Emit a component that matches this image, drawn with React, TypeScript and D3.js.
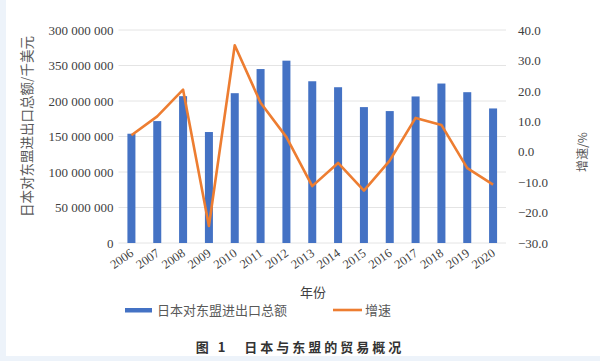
import React, { useEffect, useRef } from "react";
import * as d3 from "d3";

const years = ["2006","2007","2008","2009","2010","2011","2012","2013","2014","2015","2016","2017","2018","2019","2020"];
// 千美元 (thousand USD)
const tradeTotal = [153900000,171700000,206800000,156300000,211000000,245000000,256800000,227800000,219400000,191400000,185800000,206400000,224600000,212400000,189500000];
const growth = [5.4,11.6,20.4,-24.4,35.0,16.1,4.8,-11.3,-3.7,-12.8,-2.9,11.1,8.8,-5.4,-10.8];
const leftTickValues = [0,50000000,100000000,150000000,200000000,250000000,300000000];
const leftTickLabels = ["0","50 000 000","100 000 000","150 000 000","200 000 000","350 000 000","300 000 000"];
const rightTickValues = [-30,-20,-10,0,10,20,30,40];
const leftTitle = "日本对东盟进出口总额/千美元";
const rightTitle = "增速/%";
const xTitle = "年份";
const legendBar = "日本对东盟进出口总额";
const legendLine = "增速";
const caption = "图 1　日本与东盟的贸易概况";

const W = 600, H = 361;
const M = { left: 118.5, right: 506, top: 30, bottom: 243 };
const BLUE = "#4472c4";
const ORANGE = "#ed7d31";
const SERIF = "Liberation Serif, Times New Roman, DejaVu Serif, serif";
const CJK = "Noto Sans CJK SC, Noto Sans, sans-serif";

export default function App() {
  const ref = useRef<SVGSVGElement>(null);
  useEffect(() => {
    const svg = d3.select(ref.current);
    svg.selectAll("*").remove();

    svg.append("rect").attr("width", W).attr("height", H).attr("fill", "#edf3fa");
    svg.append("rect").attr("x", 6).attr("y", 0).attr("width", W - 6).attr("height", 356).attr("fill", "#ffffff");

    const x = d3.scaleBand().domain(years).range([M.left, M.right]).paddingInner(0.69).paddingOuter(0.345);
    const yL = d3.scaleLinear().domain([0, 300000000]).range([M.bottom, M.top]);
    const yR = d3.scaleLinear().domain([-30, 40]).range([M.bottom, M.top]);

    // gridlines
    svg.append("g").selectAll("line").data(leftTickValues).join("line")
      .attr("x1", M.left).attr("x2", M.right)
      .attr("y1", d => yL(d)).attr("y2", d => yL(d))
      .attr("stroke", "#e4e4e4").attr("stroke-width", 1);

    // left axis labels
    const lAxis = svg.append("g").attr("transform", `translate(${M.left - 5},0)`)
      .call(d3.axisLeft(yL).tickValues(leftTickValues).tickSize(0).tickPadding(0)
        .tickFormat((d, i) => leftTickLabels[i]));
    lAxis.select(".domain").remove();
    lAxis.attr("font-family", null).attr("font-size", null);
    lAxis.selectAll("text").style("font-family", SERIF).style("font-size", "13px").attr("fill", "#404040");

    // right axis labels
    const rAxis = svg.append("g").attr("transform", `translate(${M.right + 12},0)`)
      .call(d3.axisRight(yR).tickValues(rightTickValues).tickSize(0).tickPadding(0)
        .tickFormat(d => (d as number) < 0 ? "\u2212" + Math.abs(d as number).toFixed(1) : (d as number).toFixed(1)));
    rAxis.select(".domain").remove();
    rAxis.attr("font-family", null).attr("font-size", null);
    rAxis.selectAll("text").style("font-family", SERIF).style("font-size", "13px").attr("fill", "#404040");

    // bars
    svg.append("g").selectAll("rect").data(years).join("rect")
      .attr("x", d => x(d)!).attr("width", x.bandwidth())
      .attr("y", (d, i) => yL(tradeTotal[i]))
      .attr("height", (d, i) => yL(0) - yL(tradeTotal[i]))
      .attr("fill", BLUE);

    // line
    const line = d3.line<number>().x((d, i) => x(years[i])! + x.bandwidth() / 2).y(d => yR(d));
    svg.append("path").datum(growth).attr("d", line)
      .attr("fill", "none").attr("stroke", ORANGE).attr("stroke-width", 2.6).attr("stroke-linejoin", "round");

    // x tick labels
    svg.append("g").selectAll("text").data(years).join("text")
      .attr("transform", d => `translate(${x(d)! + x.bandwidth() / 2 + 3},${M.bottom + 12}) rotate(-35)`)
      .attr("text-anchor", "end").style("font-family", SERIF).style("font-size", "12.5px").attr("fill", "#404040")
      .text(d => d);

    // titles
    svg.append("text").attr("transform", `translate(32,${(M.top + M.bottom) / 2 - 10}) rotate(-90)`)
      .attr("text-anchor", "middle").style("font-family", CJK).style("font-size", "13.5px").attr("fill", "#595959")
      .text(leftTitle);
    svg.append("text").attr("transform", `translate(587,152) rotate(-90)`)
      .attr("text-anchor", "middle").style("font-family", CJK).style("font-size", "12px").attr("fill", "#595959")
      .text(rightTitle);
    svg.append("text").attr("x", 313).attr("y", 297)
      .attr("text-anchor", "middle").style("font-family", CJK).style("font-size", "13px").attr("fill", "#404040")
      .text(xTitle);

    // legend
    svg.append("rect").attr("x", 125).attr("y", 308).attr("width", 27).attr("height", 4.5).attr("fill", BLUE);
    svg.append("text").attr("x", 157).attr("y", 315).style("font-family", CJK).style("font-size", "13px").attr("fill", "#595959")
      .text(legendBar);
    svg.append("line").attr("x1", 333).attr("x2", 362).attr("y1", 310).attr("y2", 310)
      .attr("stroke", ORANGE).attr("stroke-width", 2.6);
    svg.append("text").attr("x", 365).attr("y", 315).style("font-family", CJK).style("font-size", "13px").attr("fill", "#595959")
      .text(legendLine);

    // caption
    svg.append("text").attr("x", 300).attr("y", 352).attr("text-anchor", "middle")
      .style("font-family", CJK).style("font-size", "13px").attr("font-weight", "bold").attr("letter-spacing", 3)
      .attr("fill", "#333333").text(caption);
  }, []);
  return (
    <svg ref={ref} width={W} height={H}
      style={{ position: "absolute", left: 0, top: 0, display: "block" }} />
  );
}
